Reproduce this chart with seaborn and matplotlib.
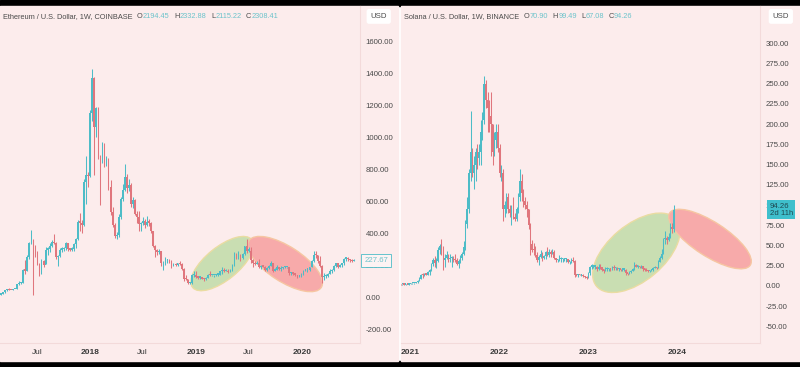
import numpy as np
import pandas as pd
import matplotlib
matplotlib.use("Agg")
import matplotlib.pyplot as plt
import matplotlib.dates as mdates
import matplotlib.transforms as mtransforms
from matplotlib.patches import Ellipse, Rectangle
import seaborn as sns

# ---- Ethereum weekly candles (Coinbase), first week starts 2017-02-27
eth_start = "2017-02-27"
eth_first_open = 15.6
eth_close = [19.2, 28.5, 42.5, 50.5, 44.5, 42.5, 48.5, 49.5, 79, 88, 89, 170, 165, 250, 340, 350,
             300, 270, 205, 155, 225, 200, 295, 300, 320, 345, 335, 250, 255, 295, 300, 305, 335,
             300, 295, 300, 330, 360, 470, 465, 450, 720, 765, 755, 1150, 1370, 1060, 1180, 880,
             860, 940, 860, 860, 690, 530, 450, 380, 390, 500, 615, 670, 750, 680, 700, 580, 605,
             520, 500, 455, 460, 475, 450, 470, 465, 410, 320, 295, 280, 285, 210, 220, 230, 230,
             225, 195, 205, 200, 210, 205, 175, 115, 110, 85, 85, 135, 140, 125, 120, 120, 115,
             110, 120, 140, 135, 135, 135, 140, 140, 160, 165, 160, 165, 155, 170, 200, 260, 250,
             265, 245, 270, 320, 290, 290, 230, 215, 205, 210, 185, 195, 190, 170, 180, 195, 210,
             165, 170, 190, 175, 180, 185, 185, 185, 150, 150, 145, 140, 130, 130, 145, 165, 170,
             170, 190, 225, 265, 260, 225, 195, 125, 130, 130, 145, 160, 170, 195, 210, 185, 200,
             210, 240, 245, 235, 230, 225, 227.67]
eth_high = [20, 29, 44, 53, 54, 46, 50, 51, 80, 97, 92, 175, 230, 262, 345, 420,
            365, 322, 290, 210, 235, 230, 310, 315, 335, 355, 395, 345, 265, 305, 310, 310, 345,
            340, 305, 310, 340, 370, 480, 525, 480, 740, 880, 780, 1170, 1425, 1375, 1190, 1190,
            885, 970, 965, 880, 870, 730, 565, 460, 405, 520, 625, 705, 830, 770, 735, 715, 625,
            615, 535, 535, 470, 500, 485, 505, 485, 470, 410, 325, 300, 300, 290, 225, 250, 240,
            235, 230, 210, 210, 215, 225, 210, 180, 135, 115, 95, 145, 160, 160, 130, 125, 125,
            118, 123, 145, 165, 140, 140, 142, 145, 165, 185, 182, 175, 175, 175, 205, 280, 275,
            285, 270, 275, 320, 360, 315, 315, 235, 225, 225, 235, 200, 200, 195, 185, 200, 225,
            215, 180, 200, 190, 195, 190, 195, 190, 185, 155, 150, 150, 140, 135, 148, 170, 175,
            175, 190, 230, 290, 285, 265, 255, 200, 150, 145, 150, 175, 175, 200, 215, 215, 205,
            215, 245, 250, 250, 240, 235, 238]
eth_low = [15.3, 18.8, 28, 38, 43, 41, 42, 47, 49, 74, 81, 88, 145, 165, 240, 330,
           10, 250, 200, 130, 145, 185, 205, 265, 280, 315, 330, 240, 195, 250, 280, 285, 295,
           290, 285, 285, 285, 305, 355, 410, 400, 445, 580, 690, 750, 1100, 760, 1000, 865,
           575, 840, 810, 820, 670, 515, 440, 370, 365, 375, 490, 600, 665, 650, 665, 565, 555,
           515, 465, 415, 410, 450, 430, 445, 445, 400, 315, 250, 265, 270, 195, 170, 200, 215,
           215, 180, 195, 195, 195, 200, 170, 100, 105, 84, 82, 84, 125, 120, 115, 115, 110,
           102, 105, 118, 130, 130, 125, 130, 133, 135, 145, 155, 160, 150, 155, 165, 195, 235,
           240, 225, 240, 265, 275, 280, 210, 190, 200, 205, 180, 175, 185, 165, 165, 175, 195,
           155, 165, 170, 170, 160, 175, 180, 180, 140, 140, 140, 130, 120, 125, 125, 140, 160,
           155, 165, 185, 220, 245, 215, 190, 90, 105, 120, 125, 145, 150, 165, 185, 180, 185,
           190, 200, 225, 225, 220, 220, 222]

# ---- Solana weekly candles (Binance), first week starts 2020-11-23
sol_start = "2020-11-23"
sol_first_open = 2.3
sol_close = [1.9, 1.9, 1.7, 1.7, 1.5, 2.0, 3.4, 3.6, 3.7, 4.3, 6.5, 9.0, 13.5, 13.0, 14.5, 14.0,
             17.0, 19.5, 27, 32, 28, 31, 45, 50, 46, 32, 35, 38, 33, 34, 34, 33, 32, 27, 31, 35,
             40, 48, 76, 95, 140, 165, 140, 150, 165, 158, 165, 190, 205, 250, 230, 220, 210, 200,
             165, 180, 190, 170, 140, 140, 95, 100, 110, 95, 90, 98, 85, 83, 95, 110, 130, 115,
             105, 100, 95, 75, 52, 45, 44, 38, 32, 36, 39, 34, 37, 42, 38, 42, 40, 42, 34, 32, 32,
             33, 33, 33, 33, 33, 30, 30, 32, 31, 14, 13, 14, 13.5, 13.5, 12, 11, 10, 16, 24, 24,
             24, 24, 21, 24, 23, 20, 19, 21, 21, 21, 20, 24, 22, 22, 21, 21, 20, 20, 20, 16, 15,
             17, 19, 21, 25, 24, 24, 23, 25, 21, 20, 19, 18, 19, 20, 22, 24, 22, 30, 34, 40, 58,
             58, 57, 60, 72, 71, 94.26]
sol_high = [2.4, 2.2, 1.9, 1.9, 1.8, 2.1, 4.0, 4.2, 4.1, 4.6, 7.0, 10.5, 15.0, 16.5, 16.0, 16.5,
            18.5, 20.5, 28, 34, 37, 35, 48, 52, 58, 50, 40, 43, 40, 40, 37, 37, 40, 34, 33, 38,
            42, 55, 82, 110, 145, 216, 170, 160, 170, 175, 175, 205, 215, 260, 255, 240, 230, 240,
            200, 190, 200, 200, 175, 150, 145, 105, 115, 115, 100, 100, 110, 90, 97, 115, 145, 138,
            120, 110, 105, 95, 78, 57, 53, 49, 42, 38, 44, 42, 38, 43, 48, 46, 44, 46, 44, 35, 33,
            38, 36, 34, 35, 34, 33, 31, 34, 36, 32, 15, 14.5, 14.5, 14.3, 14.5, 12.5, 12, 17.5, 25,
            27, 26, 26, 25, 27, 27, 23, 21, 23, 23, 22, 21, 25, 26, 23, 23, 22, 21, 21, 22, 21,
            16.5, 18, 20, 22, 29, 27, 26, 25, 26, 25, 22, 22, 20, 20, 21, 23, 25, 23, 32, 37, 46,
            59, 68, 62, 65, 78, 78, 99.49]
sol_low = [1.6, 1.7, 1.5, 1.5, 1.3, 1.4, 1.9, 3.0, 2.9, 3.4, 4.2, 6.2, 8.5, 10.0, 12.0, 13.0,
           13.5, 13.0, 19, 25, 24, 22, 30, 40, 38, 20, 24, 33, 29, 30, 24, 30, 30, 26, 22, 28,
           32, 38, 45, 72, 90, 130, 135, 120, 130, 145, 150, 150, 180, 200, 220, 190, 190, 160,
           150, 160, 170, 165, 135, 130, 80, 85, 90, 90, 85, 75, 83, 80, 80, 90, 105, 105,
           97, 95, 85, 70, 38, 42, 38, 36, 30, 26, 34, 31, 33, 33, 37, 36, 36, 39, 33, 30, 30,
           31, 30, 30, 31, 30, 28, 27, 28, 30, 11, 12, 11.5, 13, 12.8, 11.5, 10, 8, 9.9, 13,
           21, 22, 21, 19, 20, 21, 19, 16, 18, 19, 19, 19, 20, 20, 20, 20, 19, 19, 19, 19, 13,
           14, 14.5, 16, 18, 20, 23, 22, 22, 22, 19, 19, 18, 17, 17, 19, 19, 22, 21, 22, 30, 33,
           40, 52, 52, 56, 59, 65, 67.08]

eth_yticks = [-200, 0, 200, 400, 600, 800, 1000, 1200, 1400, 1600]
sol_yticks = [-50, -25, 0, 25, 50, 75, 100, 125, 150, 175, 200, 225, 250, 275, 300]
eth_xticks = ["2017-07-01", "2018-01-01", "2018-07-01", "2019-01-01", "2019-07-01", "2020-01-01"]
eth_xlabels = ["Jul", "2018", "Jul", "2019", "Jul", "2020"]
sol_xticks = ["2021-01-01", "2022-01-01", "2023-01-01", "2024-01-01"]
sol_xlabels = ["2021", "2022", "2023", "2024"]

eth_header = [("Ethereum / U.S. Dollar, 1W, COINBASE", 0), ("O", 3.2), ("2194.45", 0.2),
              ("H", 3.2), ("2332.88", 0.2), ("L", 3.2), ("2115.22", 0.2), ("C", 3.2), ("2308.41", 0.2)]
sol_header = [("Solana / U.S. Dollar, 1W, BINANCE", 0), ("O", 3.2), ("70.90", 0.2),
              ("H", 3.2), ("99.49", 0.2), ("L", 3.2), ("67.08", 0.2), ("C", 3.2), ("94.26", 0.2)]

BG = "#fcecec"
UP = "#4dbcc7"
DOWN = "#e0767d"
TXT = "#4a4a4a"
TEAL_TXT = "#6cc3cb"

sns.set_style("white", {"axes.facecolor": BG})
plt.rcParams["font.family"] = ["Liberation Sans", "DejaVu Sans"]

fig = plt.figure(figsize=(8, 3.67), dpi=100)
fig.patch.set_facecolor("white")
W, H = 800, 367
# black bands top and bottom, pink panels behind the axes
for x0, y0, w, h, c in ((0, 1 - 6 / H, 1, 6 / H, "black"), (0, 0, 1, 6 / H, "black"),
                        (0, 6 / H, 398 / W, 355 / H, BG), (401 / W, 6 / H, 399 / W, 355 / H, BG)):
    fig.patches.append(Rectangle((x0, y0), w, h, transform=fig.transFigure, color=c, zorder=-5))

ax1 = fig.add_axes([0, 24 / H, 360 / W, 337 / H])
ax2 = fig.add_axes([401 / W, 24 / H, 359 / W, 337 / H])


def draw_candles(ax, start, first_open, close, high, low):
    df = pd.DataFrame({"close": close, "high": high, "low": low})
    df["date"] = pd.date_range(start, periods=len(df), freq="7D")
    df["open"] = df["close"].shift(1).fillna(first_open)
    x = mdates.date2num(df["date"])
    colors = np.where(df["close"] >= df["open"], UP, DOWN)
    span = ax.get_ylim()[1] - ax.get_ylim()[0]
    body = (df["close"] - df["open"]).abs().clip(lower=span * 0.004)
    ax.vlines(x, df["low"], df["high"], colors=colors, lw=0.75, zorder=3)
    ax.bar(x, body, bottom=df[["open", "close"]].min(axis=1), width=5.6,
           color=colors, linewidth=0, zorder=4)


def add_ellipse(ax, date, price, w, h, angle, face, edge):
    xd = mdates.date2num(pd.Timestamp(date))
    tr = mtransforms.ScaledTranslation(xd, price, ax.transData)
    e = Ellipse((0, 0), w, h, angle=angle, transform=tr, facecolor=face,
                edgecolor=edge, lw=1.0, zorder=2)
    ax.add_artist(e)


def header(ax, parts):
    prev = ax.annotate(parts[0][0], xy=(0, 1), xycoords="axes fraction", xytext=(2.2, -10),
                       textcoords="offset points", fontsize=5.3, color=TXT, va="bottom")
    for i, (txt, gap) in enumerate(parts[1:]):
        col = TXT if i % 2 == 0 else TEAL_TXT
        prev = ax.annotate(txt, xy=(1, 0), xycoords=prev, xytext=(gap, 0),
                           textcoords="offset points", fontsize=5.3, color=col, va="bottom")


def style_axes(ax, xlim, ylim, yticks, xticks, xlabels):
    ax.set_xlim(mdates.date2num(pd.Timestamp(xlim[0])), mdates.date2num(pd.Timestamp(xlim[1])))
    ax.set_ylim(*ylim)
    ax.yaxis.tick_right()
    ax.set_yticks(yticks)
    ax.set_yticklabels([f"{v:.2f}" for v in yticks])
    ax.set_xticks(mdates.date2num(pd.to_datetime(xticks)))
    ax.set_xticklabels(xlabels)
    for lab in ax.get_xticklabels():
        if lab.get_text() != "Jul":
            lab.set_fontweight("bold")
    ax.tick_params(axis="y", length=0, pad=4, labelsize=5.6, labelcolor=TXT)
    ax.tick_params(axis="x", length=0, pad=4.5, labelsize=6, labelcolor="#3a3a3a")
    sns.despine(ax=ax, left=True, top=True, right=False, bottom=False)
    for s in ("right", "bottom"):
        ax.spines[s].set_color("#f3dada")
        ax.spines[s].set_linewidth(0.8)
    ax.grid(False)


style_axes(ax1, ("2017-02-24", "2020-07-19"), (-287.5, 1819), eth_yticks, eth_xticks, eth_xlabels)
style_axes(ax2, ("2020-11-25", "2024-12-06"), (-70.5, 346), sol_yticks, sol_xticks, sol_xlabels)

draw_candles(ax1, eth_start, eth_first_open, eth_close, eth_high, eth_low)
draw_candles(ax2, sol_start, sol_first_open, sol_close, sol_high, sol_low)

GREEN_F, GREEN_E = "#c9deb2", "#eadca2"
RED_F, RED_E = "#f7aaaa", "#f6c6a2"
add_ellipse(ax1, "2019-04-01", 209, 76, 33, 39, GREEN_F, GREEN_E)
add_ellipse(ax1, "2019-11-04", 206, 86, 35, -33, RED_F, RED_E)
add_ellipse(ax2, "2023-07-18", 41, 104, 56, 40, GREEN_F, GREEN_E)
add_ellipse(ax2, "2024-05-15", 58, 96, 34, -33, RED_F, RED_E)

header(ax1, eth_header)
header(ax2, sol_header)

# currency boxes
for ax, dx in ((ax1, 13.5), (ax2, 15)):
    ax.annotate("USD", xy=(1, 1), xycoords="axes fraction", xytext=(dx, -7.5),
                textcoords="offset points", ha="center", va="center", fontsize=5.6, color=TXT,
                bbox=dict(boxstyle="round,pad=0.5,rounding_size=0.3", fc="white", ec="none"),
                annotation_clip=False, zorder=6)

# last price labels
ax1.annotate(f"{eth_close[-1]:.2f}", xy=(1, eth_close[-1]), xycoords=ax1.get_yaxis_transform(),
             xytext=(3, 0), textcoords="offset points", ha="left", va="center", fontsize=5.6,
             color=TEAL_TXT, annotation_clip=False, zorder=6,
             bbox=dict(boxstyle="square,pad=0.35", fc="#fdf3f3", ec=UP, lw=0.6))
ax2.annotate(f"{sol_close[-1]:.2f}\n2d 11h", xy=(1, sol_close[-1]), xycoords=ax2.get_yaxis_transform(),
             xytext=(7, 0), textcoords="offset points", ha="left", va="center", fontsize=5.6,
             color="#1f4a52", linespacing=1.0, annotation_clip=False, zorder=6,
             bbox=dict(boxstyle="square,pad=0.3", fc="#3fbfcc", ec="none"))

fig.savefig("out.png", dpi=100, facecolor=fig.get_facecolor())
